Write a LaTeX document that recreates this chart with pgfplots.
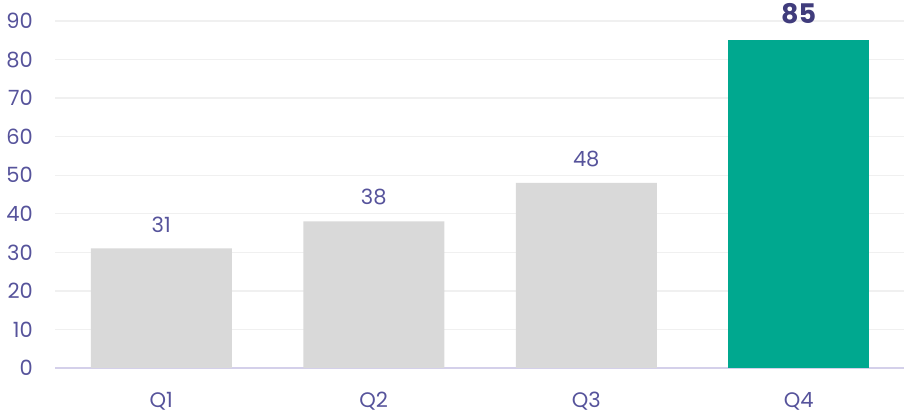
\documentclass[border=0pt]{standalone}
\usepackage{fontspec}
\setmainfont{Poppins}
\usepackage{pgfplots}
\pgfplotsset{compat=1.18}
\definecolor{txt}{HTML}{56539B}
\definecolor{txtb}{HTML}{403C7C}
\definecolor{barg}{HTML}{D9D9D9}
\definecolor{teal}{HTML}{00A88F}
\definecolor{gridc}{HTML}{F0F0F0}
\definecolor{axc}{HTML}{D4D0EA}
\begin{document}
\begin{tikzpicture}
\useasboundingbox (0,0) rectangle (904pt,414pt);
\begin{axis}[
  at={(55pt,46pt)}, anchor=south west,
  scale only axis, width=850pt, height=347pt,
  ymin=0, ymax=90, xmin=-0.5, xmax=3.5,
  ytick={0,10,...,90}, xtick={0,1,2,3}, xticklabels={Q1,Q2,Q3,Q4},
  axis lines*=left,
  x axis line style={draw=axc, line width=1.5pt, -},
  y axis line style={draw=none},
  ymajorgrids, grid style={draw=gridc, line width=1.3pt},
  major tick length=0pt, tick style={draw=none},
  /pgf/number format/assume math mode=true,
  tick label style={font=\fontsize{21}{25}\selectfont, text=txt},
  yticklabel style={anchor=east, inner sep=0pt, xshift=-22pt},
  xticklabel style={anchor=north, inner sep=0pt, yshift=-24pt},
  ybar, bar width=141pt, bar shift=0pt,
  clip=false,
]
\addplot[fill=barg, draw=none,
  nodes near coords,
  every node near coord/.append style={font=\fontsize{21}{25}\selectfont, text=txt, inner sep=0pt, yshift=16pt, anchor=south}]
  coordinates {(0,31) (1,38) (2,48)};
\addplot[fill=teal, draw=none,
  nodes near coords,
  every node near coord/.append style={font=\fontsize{27}{31}\selectfont\bfseries, text=txtb, inner sep=0pt, yshift=16pt, anchor=south}]
  coordinates {(3,85)};
\end{axis}
\end{tikzpicture}
\end{document}
